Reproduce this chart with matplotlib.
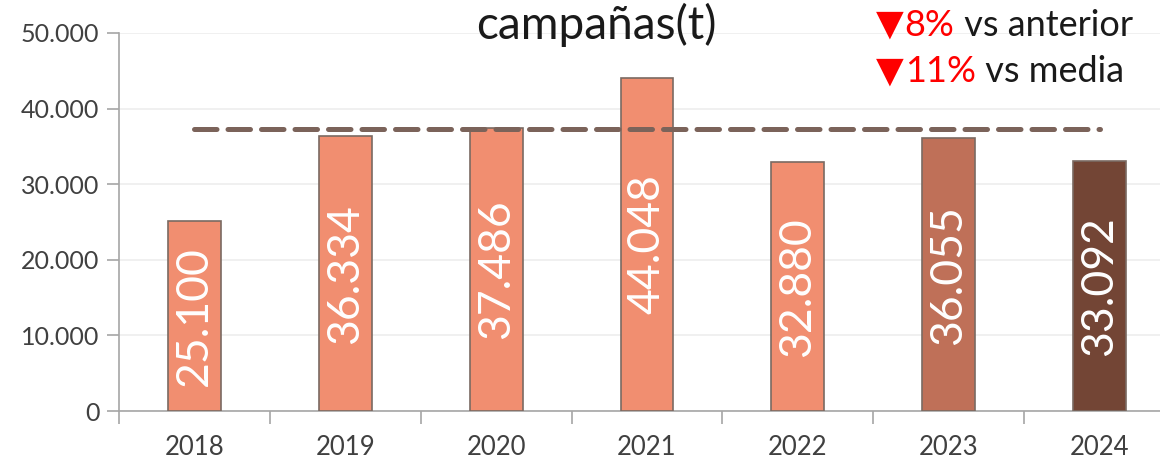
import matplotlib
matplotlib.use("Agg")
import matplotlib.pyplot as plt
from matplotlib.ticker import FuncFormatter, FixedLocator

years = ["2018", "2019", "2020", "2021", "2022", "2023", "2024"]
toneladas = [25100, 36334, 37486, 44048, 32880, 36055, 33092]
media = 37300
bar_colors = ["#F18E70", "#F18E70", "#F18E70", "#F18E70", "#F18E70", "#BF7058", "#734535"]
notas = [("8%", " vs anterior"), ("11%", " vs media")]

plt.rcParams['font.family'] = ['Lato', 'DejaVu Sans']

fig = plt.figure(figsize=(11.6, 4.61), dpi=100)
ax = fig.add_axes([119 / 1160, 1 - 411 / 461, 1056 / 1160, 378 / 461])

x = list(range(len(years)))
ax.bar(x, toneladas, width=0.35, color=bar_colors, edgecolor="#7a6a62", linewidth=1.2, zorder=3)
ax.plot([x[0], x[-1]], [media, media], color="#7B635A", linewidth=3.6,
        linestyle=(0, (4.5, 2.2)), dash_capstyle="round", zorder=4)

def miles(v, pos=None):
    return "{:,.0f}".format(v).replace(",", ".")

for xi, v in zip(x, toneladas):
    ax.text(xi, v / 2, miles(v), rotation=90, ha="center", va="center",
            color="white", fontsize=32, zorder=5)

ax.set_ylim(0, 50000)
ax.set_xlim(-0.5, len(years) - 0.5)
ax.yaxis.set_major_locator(FixedLocator([0, 10000, 20000, 30000, 40000, 50000]))
ax.yaxis.set_major_formatter(FuncFormatter(miles))
ax.set_xticks(x)
ax.set_xticklabels(years)
ax.set_xticks([i - 0.5 for i in range(len(years) + 1)], minor=True)
ax.tick_params(axis="x", which="major", length=0, pad=17, labelsize=18.5, labelcolor="#404040")
ax.tick_params(axis="x", which="minor", length=9, width=1.2, color="#a6a6a6")
ax.tick_params(axis="y", length=9, width=1.2, color="#a6a6a6", labelsize=18, labelcolor="#404040", pad=5)
ax.grid(axis="y", color="#eeeeee", linewidth=1.2, zorder=0)
for s in ["top", "right"]:
    ax.spines[s].set_visible(False)
for s in ["left", "bottom"]:
    ax.spines[s].set_color("#a6a6a6")
    ax.spines[s].set_linewidth(1.2)

fig.text(596 / 1160, 1 - 25 / 461, "campañas(t)", ha="center", va="center", fontsize=33, color="#1a1a1a")

fig.canvas.draw()
r = fig.canvas.get_renderer()
W = fig.bbox.width
for (rojo, resto), yp in zip(notas, [25, 72]):
    yf = 1 - yp / 461
    tri = fig.text(876 / W, yf, "▼", ha="left", va="center", fontsize=26,
                   color="#FF0000", family=["DejaVu Sans"])
    b0 = tri.get_window_extent(renderer=r)
    t = fig.text((b0.x1 + 1) / W, yf, rojo, ha="left", va="center", fontsize=26, color="#FF0000")
    bb = t.get_window_extent(renderer=r)
    fig.text(bb.x1 / W, yf, resto, ha="left", va="center", fontsize=26, color="#1a1a1a")

fig.savefig("out.png", dpi=100)
